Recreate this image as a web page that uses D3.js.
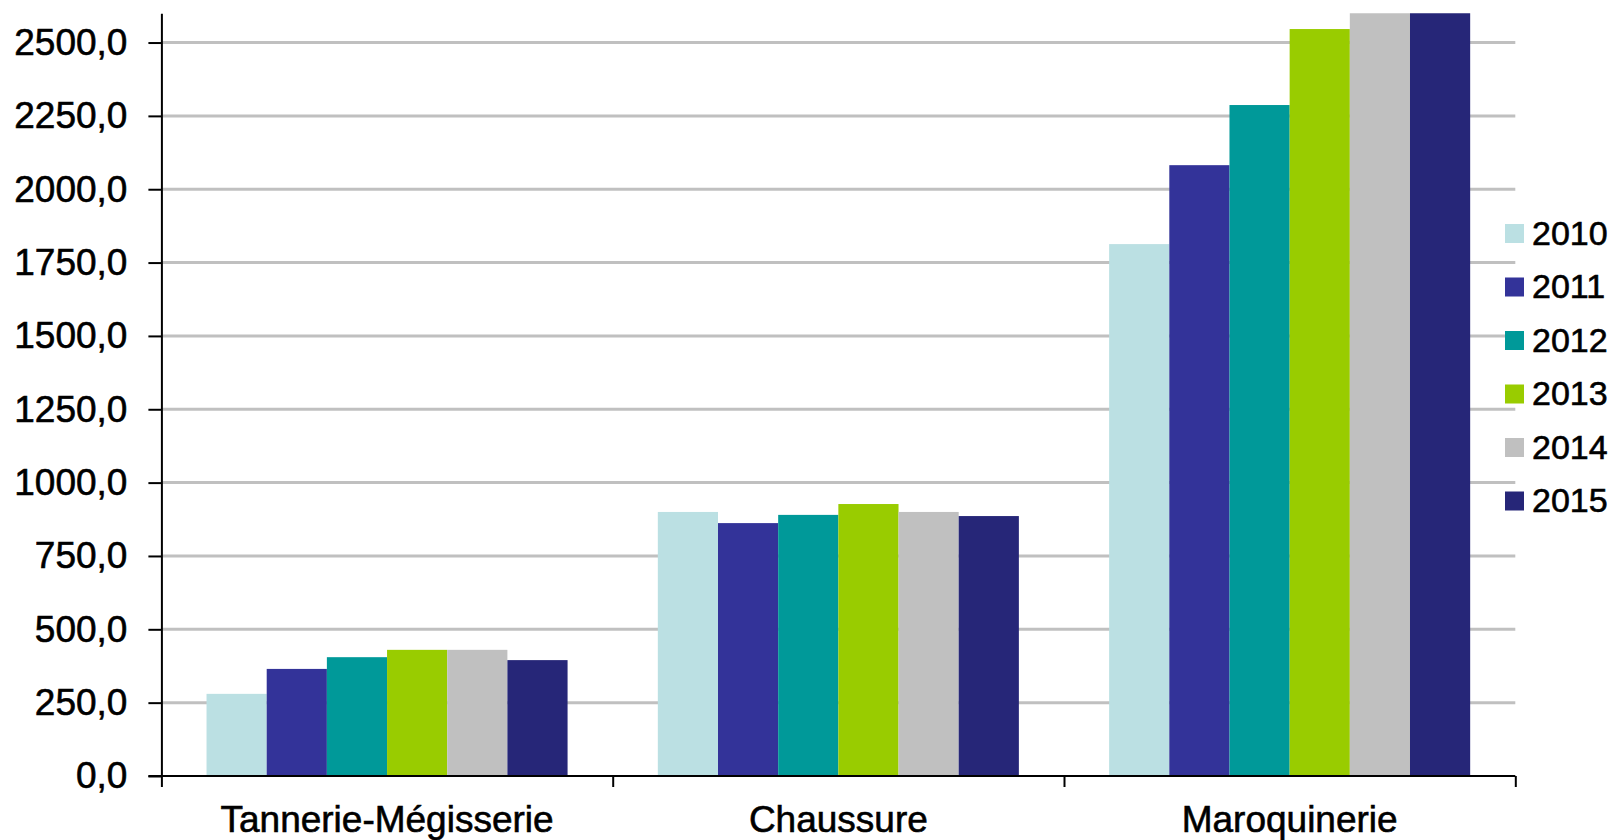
<!DOCTYPE html>
<html>
<head>
<meta charset="utf-8">
<script src="https://cdn.jsdelivr.net/npm/d3@7"></script>
<style>
  html, body { margin: 0; padding: 0; background: #fff; }
  svg { display: block; font-family: "Liberation Sans", Arial, sans-serif; }
  svg text { stroke: #000; stroke-width: 0.6px; }
</style>
</head>
<body>
<svg width="1612" height="840"></svg>
<script>
// categories and series (last two Maroquinerie bars are cut at the top)
var categories = ["Tannerie-Mégisserie", "Chaussure", "Maroquinerie"];
var years = ["2010", "2011", "2012", "2013", "2014", "2015"];
var v2010 = [280, 900, 1813];
var v2011 = [365, 862, 2082];
var v2012 = [405, 890, 2287];
var v2013 = [430, 927, 2546];
var v2014 = [430, 900, 2650];
var v2015 = [395, 886, 2720];
var yTicks = [0, 250, 500, 750, 1000, 1250, 1500, 1750, 2000, 2250, 2500];
var colors = ["#bbe0e3", "#333399", "#009999", "#99cc00", "#c0c0c0", "#262678"];

var series = [v2010, v2011, v2012, v2013, v2014, v2015];

var svg = d3.select("svg"),
    width = +svg.attr("width"),
    height = +svg.attr("height");

var plotLeft = 161.4, plotRight = 1515.3, plotBottom = 776, plotTop = 13.2;

var y = d3.scaleLinear().domain([0, 2600]).range([plotBottom, plotTop]);
var x0 = d3.scaleBand().domain(categories).range([plotLeft, plotRight]).padding(0);
var x1 = d3.scaleBand().domain(years).range([0, x0.bandwidth()])
    .paddingInner(0).paddingOuter(0.75);
var color = d3.scaleOrdinal().domain(years).range(colors);

var fr = d3.formatLocale({ decimal: ",", thousands: "", grouping: [3], currency: ["", "€"] });
var fmt = fr.format(".1f");

// gridlines
svg.append("g")
    .selectAll("line")
    .data(yTicks.filter(function (d) { return d > 0; }))
    .enter()
    .append("line")
    .attr("x1", plotLeft)
    .attr("x2", plotRight)
    .attr("y1", function (d) { return y(d); })
    .attr("y2", function (d) { return y(d); })
    .attr("stroke", "#c0c0c0")
    .attr("stroke-width", 3);

// clip so the tall bars stop at the top of the plot
svg.append("clipPath")
    .attr("id", "plot-clip")
    .append("rect")
    .attr("x", plotLeft)
    .attr("y", plotTop)
    .attr("width", plotRight - plotLeft)
    .attr("height", plotBottom - plotTop);

var rows = [];
categories.forEach(function (c, i) {
    years.forEach(function (yr, j) {
        rows.push({ cat: c, year: yr, value: series[j][i] });
    });
});

svg.append("g")
    .attr("clip-path", "url(#plot-clip)")
    .selectAll("rect")
    .data(rows)
    .enter()
    .append("rect")
    .attr("x", function (d) { return x0(d.cat) + x1(d.year); })
    .attr("y", function (d) { return y(d.value); })
    .attr("width", x1.bandwidth())
    .attr("height", function (d) { return plotBottom - y(d.value); })
    .attr("fill", function (d) { return color(d.year); });

// y axis
var yAxis = svg.append("g")
    .attr("transform", "translate(" + plotLeft + ",0)")
    .call(d3.axisLeft(y).tickValues(yTicks).tickFormat(fmt)
        .tickSize(13).tickSizeOuter(0).tickPadding(21));
yAxis.select(".domain").attr("stroke", "#000").attr("stroke-width", 2);
yAxis.selectAll(".tick line").attr("stroke", "#000").attr("stroke-width", 2);
yAxis.selectAll("text")
    .attr("fill", "#000")
    .style("font-size", "37px")
    .style("font-family", "'Liberation Sans', Arial, sans-serif");

// x axis: boundary ticks
var xb = d3.scaleLinear().domain([0, categories.length]).range([plotLeft, plotRight]);
var xAxis = svg.append("g")
    .attr("transform", "translate(0," + plotBottom + ")")
    .call(d3.axisBottom(xb).tickValues(d3.range(categories.length + 1))
        .tickFormat("").tickSize(11).tickSizeOuter(0));
xAxis.select(".domain").attr("stroke", "#000").attr("stroke-width", 2)
    .attr("d", "M" + (plotLeft - 13) + ",0H" + plotRight);
xAxis.selectAll(".tick line").attr("stroke", "#000").attr("stroke-width", 2);

// category labels
var xLabels = svg.append("g")
    .attr("transform", "translate(0," + plotBottom + ")")
    .call(d3.axisBottom(x0).tickSize(0).tickPadding(30));
xLabels.select(".domain").remove();
xLabels.selectAll("text")
    .attr("fill", "#000")
    .style("font-size", "37px")
    .style("font-family", "'Liberation Sans', Arial, sans-serif");

// legend
var legend = svg.append("g")
    .selectAll("g")
    .data(years)
    .enter()
    .append("g")
    .attr("transform", function (d, i) { return "translate(1505," + (233.5 + i * 53.5) + ")"; });

legend.append("rect")
    .attr("x", 0)
    .attr("y", -9.5)
    .attr("width", 19)
    .attr("height", 19)
    .attr("fill", function (d) { return color(d); });

legend.append("text")
    .attr("x", 27)
    .attr("y", 0)
    .attr("dy", "0.33em")
    .style("font-size", "34px")
    .attr("fill", "#000")
    .text(function (d) { return d; });
</script>
</body>
</html>
